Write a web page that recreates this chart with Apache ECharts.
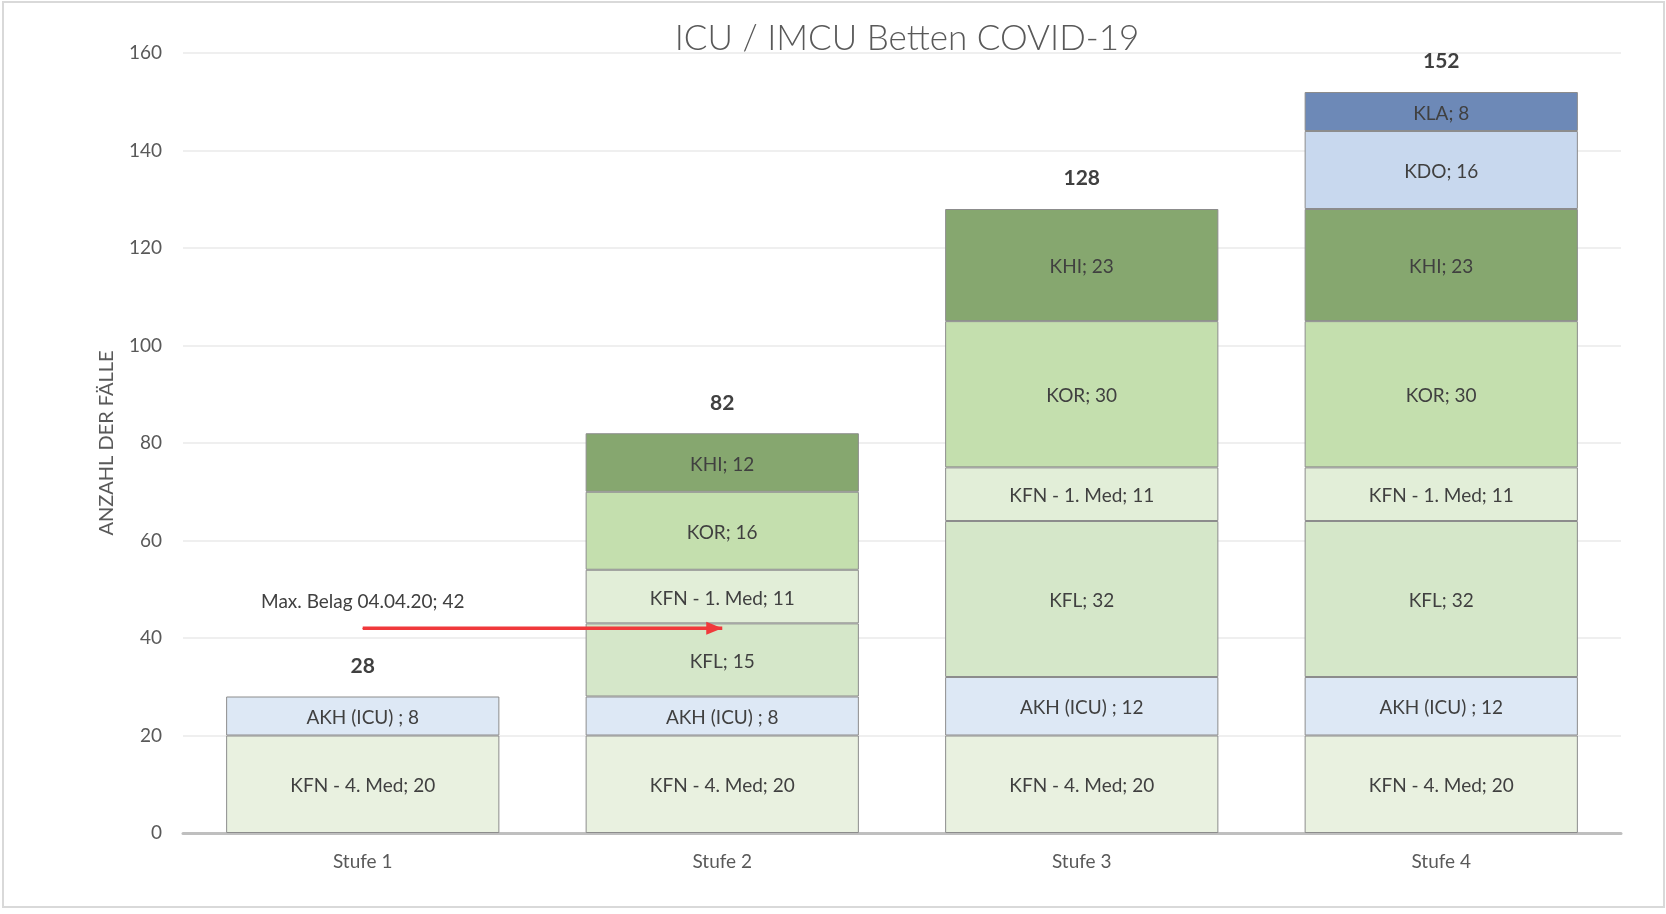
<!DOCTYPE html>
<html>
<head>
<meta charset="utf-8">
<script src="https://cdn.jsdelivr.net/npm/echarts@6/dist/echarts.min.js"></script>
<style>
  html,body{margin:0;padding:0;background:#fff;}
  #chart{position:absolute;left:0;top:0;width:1666px;height:914px;}
  #frame{position:absolute;left:2px;top:1px;width:1659px;height:903px;border:2px solid #d9d9d9;pointer-events:none;}
</style>
</head>
<body>
<div id="chart"></div>
<div id="frame"></div>
<script>
const stufen = ['Stufe 1', 'Stufe 2', 'Stufe 3', 'Stufe 4']
// Segmente von unten nach oben
const kfn4 = [20, 20, 20, 20]
const akh = [8, 8, 12, 12]
const kfl = ['-', 15, 32, 32]
const kfn1 = ['-', 11, 11, 11]
const kor = ['-', 16, 30, 30]
const khi = ['-', 12, 23, 23]
const kdo = ['-', '-', '-', 16]
const kla = ['-', '-', '-', 8]
const summen = [28, 82, 128, 152]
const maxBelag = [42, 42, '-', '-']
const yTicks = [0, 20, 40, 60, 80, 100, 120, 140, 160]

const FONT = 'Lato'

const segmente = [
  { name: 'KFN - 4. Med', data: kfn4, color: '#e9f1e0' },
  { name: 'AKH (ICU) ', data: akh, color: '#dde8f5' },
  { name: 'KFL', data: kfl, color: '#d5e7c9' },
  { name: 'KFN - 1. Med', data: kfn1, color: '#e2eed8' },
  { name: 'KOR', data: kor, color: '#c4dfae' },
  { name: 'KHI', data: khi, color: '#86a76f' },
  { name: 'KDO', data: kdo, color: '#c8d8ee' },
  { name: 'KLA', data: kla, color: '#6d89b7' }
]

const chart = echarts.init(document.getElementById('chart'))

const series = segmente.map(s => ({
  name: s.name,
  type: 'bar',
  stack: 'betten',
  barWidth: '76%',
  data: s.data,
  itemStyle: { color: s.color, borderColor: '#8c8c8c', borderWidth: 1 },
  label: {
    show: true,
    position: 'inside',
    offset: [0, 2],
    fontFamily: FONT,
    fontSize: 19,
    color: '#404040',
    formatter: p => s.name + '; ' + p.value
  }
}))

// Summen über den Balken
series.push({
  name: 'Summe',
  type: 'bar',
  stack: 'betten',
  barWidth: '76%',
  data: summen.map(() => 0),
  itemStyle: { color: 'transparent' },
  label: {
    show: true,
    position: 'top',
    distance: 20,
    fontFamily: FONT,
    fontSize: 21,
    fontWeight: 'bold',
    color: '#404040',
    formatter: p => summen[p.dataIndex]
  }
})

// Max. Belag Pfeil
series.push({
  name: 'Max. Belag 04.04.20',
  type: 'line',
  data: maxBelag.map((v, i) => i === 1
    ? { value: v, symbol: 'triangle', symbolRotate: -90, symbolSize: [13, 16], symbolOffset: [-8, 0] }
    : { value: v, symbol: 'circle', symbolSize: 1 }),
  lineStyle: { color: '#f0393b', width: 3.5 },
  itemStyle: { color: '#f0393b' },
  z: 5,
  label: {
    show: true,
    position: 'top',
    distance: 16,
    fontFamily: FONT,
    fontSize: 19,
    color: '#404040',
    formatter: p => p.dataIndex === 0 ? 'Max. Belag 04.04.20; ' + p.value : ''
  }
})

chart.setOption({
  animation: false,
  title: {
    text: 'ICU / IMCU Betten COVID-19',
    left: 902,
    textAlign: 'center',
    top: 16,
    textStyle: { fontFamily: FONT, fontSize: 35, fontWeight: 300, color: '#595959' }
  },
  grid: { left: 183, right: 45, top: 53, bottom: 81 },
  xAxis: {
    type: 'category',
    data: stufen,
    axisTick: { show: false },
    axisLine: { lineStyle: { color: '#bfbfbf', width: 3 } },
    axisLabel: { fontFamily: FONT, fontSize: 19, color: '#595959', margin: 19 }
  },
  yAxis: {
    type: 'value',
    min: yTicks[0],
    max: yTicks[yTicks.length - 1],
    interval: yTicks[1] - yTicks[0],
    name: 'ANZAHL DER FÄLLE',
    nameLocation: 'middle',
    nameGap: 66,
    nameTextStyle: { fontFamily: FONT, fontSize: 20, color: '#595959' },
    axisLabel: { fontFamily: FONT, fontSize: 19, color: '#595959', margin: 21 },
    splitLine: { lineStyle: { color: '#efefef', width: 2 } }
  },
  series: series
})
</script>
</body>
</html>
